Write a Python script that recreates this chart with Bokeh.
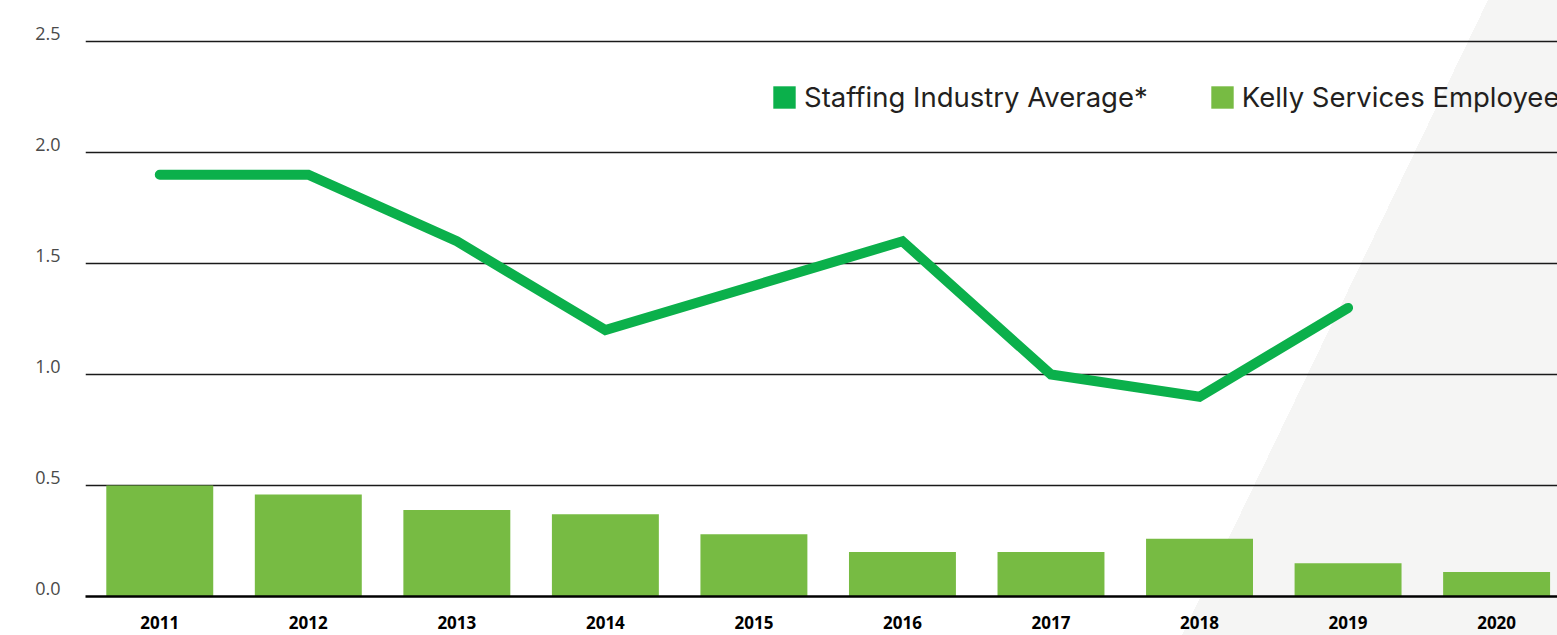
from bokeh.plotting import figure
from bokeh.models import Range1d, LinearAxis, FixedTicker, Grid, Legend, LegendItem
from bokeh.embed import file_html
from bokeh.resources import INLINE

years = [2011, 2012, 2013, 2014, 2015, 2016, 2017, 2018, 2019, 2020]
kelly = [0.50, 0.46, 0.39, 0.37, 0.28, 0.20, 0.20, 0.26, 0.15, 0.11]
staffing_years = [2011, 2012, 2013, 2014, 2015, 2016, 2017, 2018, 2019]
staffing = [1.90, 1.90, 1.60, 1.20, 1.40, 1.60, 1.00, 0.90, 1.30]
y_ticks = [0.0, 0.5, 1.0, 1.5, 2.0, 2.5]
y_labels = {0.0: "0.0", 0.5: "0.5", 1.0: "1.0", 1.5: "1.5", 2.0: "2.0", 2.5: "2.5"}
series_names = ["Staffing Industry Average*", "Kelly Services Employees"]

GREEN_LINE = "#0bb04b"
GREEN_BAR = "#77bb43"

Y_TOP = 2.5495
p = figure(width=1557, height=635, output_backend="svg", toolbar_location=None,
           x_range=Range1d(2010.5, 2020.41), y_range=Range1d(0, Y_TOP),
           y_axis_location=None,
           min_border_left=85, min_border_right=0, min_border_top=30, min_border_bottom=39)
p.outline_line_color = None
p.background_fill_alpha = 0
p.border_fill_alpha = 0
p.styles = {"background": "linear-gradient(115.73deg, #ffffff 79.87%, #f5f5f4 79.87%)"}
p.xgrid.visible = False
p.ygrid.visible = False

# grid lines
grid = Grid(dimension=1, ticker=FixedTicker(ticks=y_ticks), grid_line_color="#1a1a1a",
            grid_line_width=1.6)
p.add_layout(grid)

# y labels slightly above their grid lines
d = 8 / 222
p.extra_y_ranges = {"lab": Range1d(0 - d, Y_TOP - d)}
yax = LinearAxis(y_range_name="lab", ticker=FixedTicker(ticks=y_ticks))
yax.major_label_overrides = y_labels
yax.axis_line_color = None
yax.major_tick_line_color = None
yax.minor_tick_line_color = None
yax.major_label_standoff = 19
yax.major_label_text_font = "Open Sans"
yax.major_label_text_font_size = "18px"
yax.major_label_text_color = "#4a4a4a"
p.add_layout(yax, "left")

xax = p.xaxis[0]
xax.ticker = FixedTicker(ticks=years)
xax.axis_line_color = "#000000"
xax.axis_line_width = 2.6
xax.major_tick_line_color = None
xax.minor_tick_line_color = None
xax.major_label_standoff = 13
xax.major_label_text_font = "Open Sans"
xax.major_label_text_font_style = "bold"
xax.major_label_text_font_size = "17px"
xax.major_label_text_color = "#000000"

bars = p.vbar(x=years, top=kelly, width=0.72, fill_color=GREEN_BAR, line_color=None)
line = p.line(staffing_years, staffing, line_color=GREEN_LINE, line_width=10,
              line_cap="round", line_join="miter")
# zero-width bars: only used to give the line series a square legend swatch
legend_swatch = p.vbar(x=staffing_years, top=staffing, width=0, fill_color=GREEN_LINE,
                       line_color=None)

legend = Legend(items=[LegendItem(label=series_names[0], renderers=[legend_swatch]),
                       LegendItem(label=series_names[1], renderers=[bars])],
                location=(685, 482), orientation="horizontal",
                glyph_width=28, glyph_height=28, label_standoff=6, spacing=60,
                padding=0, margin=0, border_line_color=None, background_fill_alpha=0,
                label_text_font="Inter", label_text_font_size="27.5px",
                label_text_color="#231f20")
p.add_layout(legend, "center")

open("out.html", "w").write(file_html(p, INLINE))
